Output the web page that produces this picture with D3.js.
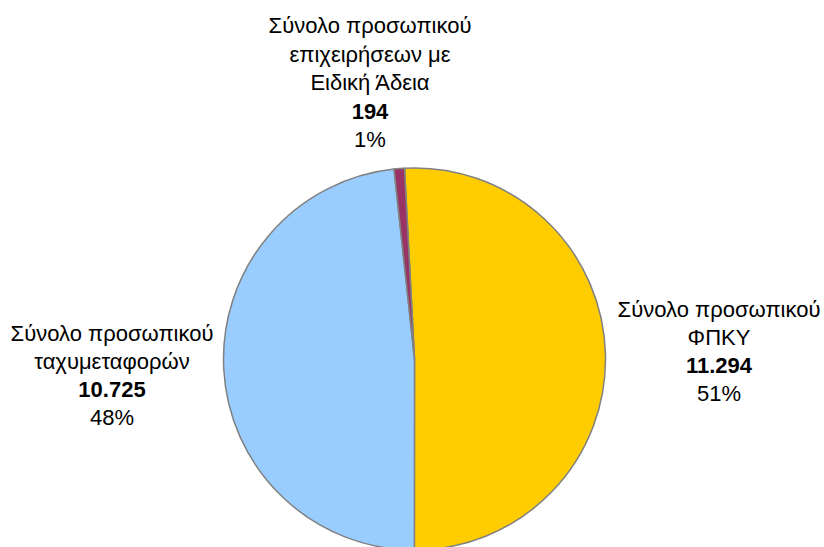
<!DOCTYPE html>
<html><head><meta charset="utf-8">
<script src="https://cdn.jsdelivr.net/npm/d3@7"></script>
<style>body{margin:0;background:#fff}svg{display:block}</style>
</head><body>
<svg id="c" width="824" height="547"></svg>
<script>
const categories = ["Σύνολο προσωπικού ΦΠΚΥ", "Σύνολο προσωπικού ταχυμεταφορών", "Σύνολο προσωπικού επιχειρήσεων με Ειδική Άδεια"];
const values = [11294, 10725, 194];
const valueLabels = ["11.294", "10.725", "194"];
const percentLabels = ["51%", "48%", "1%"];
const nameLines = [["Σύνολο προσωπικού", "ΦΠΚΥ"], ["Σύνολο προσωπικού", "ταχυμεταφορών"], ["Σύνολο προσωπικού", "επιχειρήσεων με", "Ειδική Άδεια"]];
const colors = ["#FFCC00", "#99CCFF", "#993366"];

const svg = d3.select("#c");
const cx = 414.5, cy = 359, r = 191;
const start = -3 * Math.PI / 180;
const pie = d3.pie().sort(null).value(d => d).startAngle(start).endAngle(start + 2 * Math.PI)(values);
const arc = d3.arc().innerRadius(0).outerRadius(r);
const g = svg.append("g").attr("transform", `translate(${cx},${cy})`);
g.selectAll("path").data(pie).join("path")
  .attr("d", arc).attr("fill", (d, i) => colors[i])
  .attr("stroke", "#808080").attr("stroke-width", 1.5).attr("stroke-linejoin", "round");

const labelPos = [[719, 317, 28], [112, 341, 28], [370, 33, 28.5]];
labelPos.forEach((p, i) => {
  const t = svg.append("text").attr("text-anchor", "middle")
    .attr("font-family", "Liberation Sans, Arial, sans-serif").attr("font-size", 22).attr("fill", "#000");
  const lines = nameLines[i].map(s => ({s, b: false})).concat([{s: valueLabels[i], b: true}, {s: percentLabels[i], b: false}]);
  lines.forEach((l, k) => {
    t.append("tspan").attr("x", p[0]).attr("y", p[1] + k * p[2])
      .attr("font-weight", l.b ? "bold" : "normal").text(l.s);
  });
});
</script>
</body></html>
